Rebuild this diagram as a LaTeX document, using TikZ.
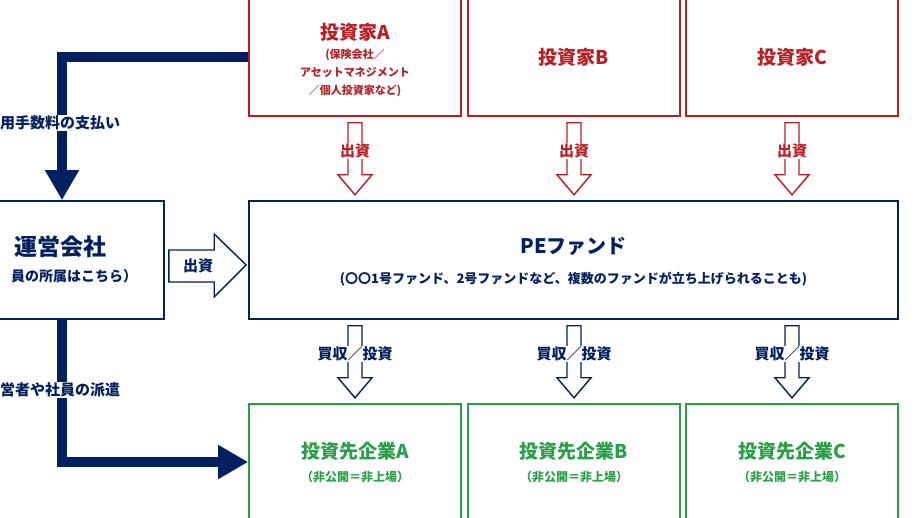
\documentclass[tikz,border=0pt]{standalone}
\usepackage{fontspec}
\setmainfont{Noto Sans CJK JP}
\usetikzlibrary{arrows.meta, positioning, calc}
\definecolor{navy}{RGB}{0,32,96}
\definecolor{invred}{RGB}{185,30,35}
\definecolor{compgreen}{RGB}{40,160,70}
\tikzset{
  box/.style={draw, line width=1.6pt, minimum width=212pt, minimum height=#1, inner sep=0pt},
  title/.style={font=\fontsize{19}{22}\selectfont\bfseries},
  sub/.style={font=\fontsize{12}{16}\selectfont\bfseries, align=center},
  flowlabel/.style={text=#1, fill=white, inner sep=1pt, font=\fontsize{15}{17}\selectfont\bfseries},
  hollow/.style={draw=#1, line width=1.4pt, fill=white, line join=miter},
  big/.style={navy, line width=10pt, -{Triangle[length=30pt,width=32pt]}}
}
\begin{document}
\begin{tikzpicture}[x=1pt, y=-1pt]
\useasboundingbox (0,0) rectangle (921,518);

% boxes
\foreach \k/\x in {A/355, B/574, C/792} {
  \node[box=122pt, invred] (inv\k) at (\x,55) {};
  \node[box=116pt, compgreen] (comp\k) at (\x,462) {};
}
\node[box=118pt, navy, minimum width=649pt] (fund) at (573.5,260) {};
\node[box=118pt, navy, minimum width=214pt] (mgmt) at (57,260) {};

% texts
\node[title, text=invred] at (355,32) {投資家A};
\node[sub, text=invred, font=\fontsize{11}{18}\selectfont\bfseries] at (355,73) {(保険会社／\\アセットマネジメント\\／個人投資家など)};
\node[title, text=invred] at (574,57) {投資家B};
\node[title, text=invred] at (792,57) {投資家C};
\node[title, text=navy, font=\fontsize{20}{22}\selectfont\bfseries] at (573.5,246) {PEファンド};
\node[sub, text=navy, font=\fontsize{13}{16}\selectfont\bfseries] at (573.5,279) {(〇〇1号ファンド、2号ファンドなど、複数のファンドが立ち上げられることも)};
\node[title, text=navy, font=\fontsize{23}{26}\selectfont\bfseries] at (60,247) {運営会社};
\node[sub, text=navy, font=\fontsize{14}{16}\selectfont\bfseries] at (74,276) {員の所属はこちら）};
\foreach \k in {A,B,C} {
  \node[title, text=compgreen] at ($(comp\k.north)+(0,48)$) {投資先企業\k};
  \node[sub, text=compgreen] at ($(comp\k.north)+(0,74)$) {（非公開＝非上場）};
}

% hollow arrows
\foreach \k in {A,B,C} {
  \draw[hollow=invred] let \p1=(inv\k.south) in
    (\x1-7,\y1-6) -- (\x1+7,\y1-6) -- (\x1+7,\y1-58) -- (\x1+17,\y1-58)
    -- (\x1,\y1-78) -- (\x1-17,\y1-58) -- (\x1-7,\y1-58) -- cycle;
  \node[flowlabel=invred] at ($(inv\k.south)+(0,34)$) {出資};
  \draw[hollow=navy] let \p1=(fund.south), \p2=(comp\k.north) in
    (\x2-7,\y1-6) -- (\x2+7,\y1-6) -- (\x2+7,\y1-58) -- (\x2+17,\y1-58)
    -- (\x2,\y1-78) -- (\x2-17,\y1-58) -- (\x2-7,\y1-58) -- cycle;
  \node[flowlabel=navy] at ($(fund.south -| comp\k.north)+(0,34)$) {買収／投資};
}
\draw[hollow=navy] let \p1=(mgmt.east), \p2=(fund.west) in
  (\x1+4,\y1+10) -- (\x2-34,\y1+10) -- (\x2-34,\y1+26) -- (\x2-2,\y1-5)
  -- (\x2-34,\y1-37) -- (\x2-34,\y1-22) -- (\x1+4,\y1-22) -- cycle;
\node[text=navy, font=\fontsize{15}{17}\selectfont\bfseries] at (198,266) {出資};

% thick connectors
\coordinate (feeturn) at (62,57);
\draw[big] (invA.west |- feeturn) -- (feeturn) -- (mgmt.north -| feeturn);
\coordinate (sendturn) at (62,462);
\draw[big] (mgmt.south -| sendturn) -- (sendturn) -- (compA.west);
\node[flowlabel=navy, anchor=west, inner xsep=0pt] at (0,123) {用手数料の支払い};
\node[flowlabel=navy, anchor=west, inner xsep=0pt] at (0,390) {営者や社員の派遣};
\end{tikzpicture}
\end{document}
